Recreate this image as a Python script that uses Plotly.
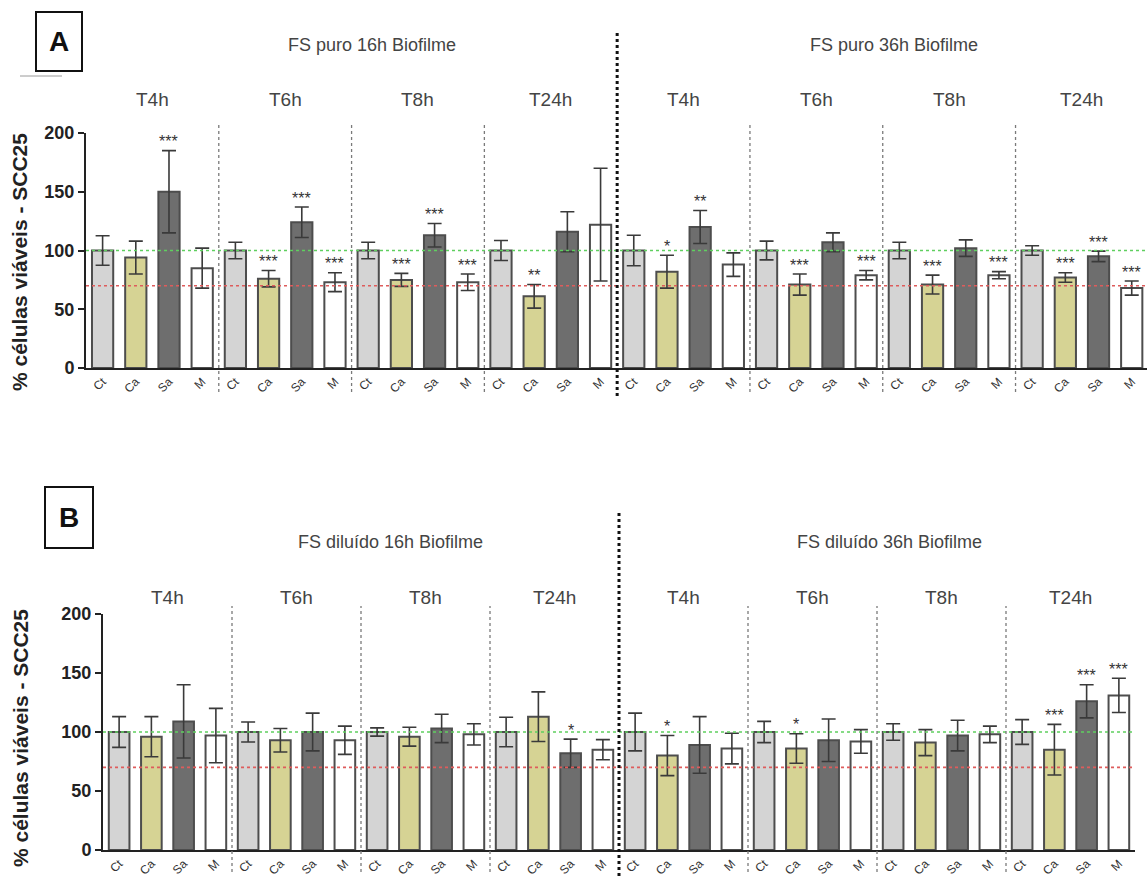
import plotly.graph_objects as go

W, H = 1147, 882

categories = ["Ct", "Ca", "Sa", "M"]
time_points = ["T4h", "T6h", "T8h", "T24h"]

# Panel A - FS puro (per time point: Ct, Ca, Sa, M)
a16_mean = [100, 94, 150, 85,  100, 76, 124, 73,  100, 75, 113, 73,  100, 61, 116, 122]
a16_err = [12.5, 14, 35, 17,   7, 7, 13, 8,       7, 5.5, 10, 7,     8.5, 10, 17, 48]
a16_sig = ["", "", "***", "",  "", "***", "***", "***",  "", "***", "***", "***",  "", "**", "", ""]

a36_mean = [100, 82, 120, 88,  100, 71, 107, 79,  100, 71, 102, 79,  100, 77, 95, 68]
a36_err = [13, 14, 14, 10,     8, 9, 8, 4,        7, 8, 7, 3,        4, 4, 4.5, 6]
a36_sig = ["", "*", "**", "",  "", "***", "", "***",  "", "***", "", "***",  "", "***", "***", "***"]

# Panel B - FS diluído
b16_mean = [100, 96, 109, 97,  100, 93, 100, 93,  100, 96, 103, 98,  100, 113, 82, 85]
b16_err = [13, 17, 31, 23,     8.5, 10, 16, 12,   3.5, 8, 12, 9,     12.5, 21, 12, 8.5]
b16_sig = ["", "", "", "",     "", "", "", "",    "", "", "", "",    "", "", "*", ""]

b36_mean = [100, 80, 89, 86,   100, 86, 93, 92,   100, 91, 97, 98,   100, 85, 126, 131]
b36_err = [16, 17, 24, 13,     9, 12.5, 18, 10,   7, 11, 13, 7,      10.5, 21.5, 14, 14.5]
b36_sig = ["", "*", "", "",    "", "*", "", "",   "", "", "", "",    "", "***", "***", "***"]

titles_a = ["FS puro 16h Biofilme", "FS puro 36h Biofilme"]
titles_b = ["FS diluído 16h Biofilme", "FS diluído 36h Biofilme"]
y_title = "% células viáveis - SCC25"

fill_colors = {"Ct": "#d4d4d4", "Ca": "#d6d394", "Sa": "#6e6e6e", "M": "#ffffff"}
FONT = "Liberation Sans, Arial, sans-serif"


def px_x(x):
    return x / W


def px_y(y):
    return 1 - y / H


fig = go.Figure()
annotations = []
shapes = []


def note(x, y, text, size, color, xref="paper", yref="paper", angle=0, yshift=0):
    annotations.append(dict(x=x, y=y, xref=xref, yref=yref, text=text, showarrow=False,
                            xanchor="center", yanchor="middle", textangle=angle,
                            yshift=yshift, font=dict(family=FONT, size=size, color=color)))


panels = [
    dict(xa="x", ya="y", means=a16_mean + a36_mean, errs=a16_err + a36_err,
         sig=a16_sig + a36_sig, titles=titles_a, letter="A",
         xdom=[px_x(86), 1.0], ydom=[px_y(368), px_y(133)], xr=[-0.5, 31.46],
         title_px=[(372, 45), (894, 45)], tp_y=100, div_top=123, div_bot=392,
         major_top=30, major_bot=396, box=(36, 12, 82, 71), ytitle_y=262),
    dict(xa="x2", ya="y2", means=b16_mean + b36_mean, errs=b16_err + b36_err,
         sig=b16_sig + b36_sig, titles=titles_b, letter="B",
         xdom=[px_x(103), px_x(1135)], ydom=[px_y(850), px_y(614)], xr=[-0.5, 31.5],
         title_px=[(390, 542), (890, 542)], tp_y=597, div_top=606, div_bot=872,
         major_top=513, major_bot=876, box=(45, 487, 93, 548), ytitle_y=738),
]

for p in panels:
    n = len(p["means"])
    for ci, cat in enumerate(categories):
        idx = [i for i in range(n) if i % 4 == ci]
        fig.add_trace(go.Bar(
            x=idx,
            y=[p["means"][i] for i in idx],
            error_y=dict(type="data", array=[p["errs"][i] for i in idx],
                         color="#3a3a3a", thickness=1.6, width=7),
            width=0.64,
            marker=dict(color=fill_colors[cat], line=dict(color="#4d4d4d", width=2)),
            xaxis=p["xa"], yaxis=p["ya"], showlegend=False, name=cat,
        ))

    xref, yref = p["xa"], p["ya"]
    # reference levels
    for lvl, col in [(100, "#5fcf5f"), (70, "#de5c5c")]:
        shapes.append(dict(type="line", xref=xref, yref=yref, x0=-0.5, x1=31.5,
                           y0=lvl, y1=lvl, layer="above",
                           line=dict(color=col, width=1.6, dash="dot")))
    # time-point dividers
    for b in [3.5, 7.5, 11.5, 19.5, 23.5, 27.5]:
        shapes.append(dict(type="line", xref=xref, yref="paper", x0=b, x1=b,
                           y0=px_y(p["div_bot"]), y1=px_y(p["div_top"]),
                           line=dict(color="#7a7a7a", width=1.3, dash="dot")))
    # biofilm divider
    shapes.append(dict(type="line", xref=xref, yref="paper", x0=15.5, x1=15.5,
                       y0=px_y(p["major_bot"]), y1=px_y(p["major_top"]),
                       line=dict(color="#111111", width=3, dash="dot")))
    # letter box
    bx0, by0, bx1, by1 = p["box"]
    shapes.append(dict(type="rect", xref="paper", yref="paper",
                       x0=px_x(bx0), x1=px_x(bx1), y0=px_y(by1), y1=px_y(by0),
                       line=dict(color="#111111", width=2)))
    note(px_x((bx0 + bx1) / 2), px_y((by0 + by1) / 2), f"<b>{p['letter']}</b>", 28, "#111")
    # biofilm titles
    for t, (tx, ty) in zip(p["titles"], p["title_px"]):
        note(px_x(tx), px_y(ty), t, 18, "#444")
    # time-point labels
    for g in range(8):
        note(g * 4 + 1.5, px_y(p["tp_y"]), time_points[g % 4], 19, "#444", xref=xref)
    # significance marks
    for i in range(n):
        if p["sig"][i]:
            note(i, p["means"][i] + p["errs"][i], p["sig"][i], 16, "#333",
                 xref=xref, yref=yref, yshift=9)
    # y-axis title
    note(px_x(20), px_y(p["ytitle_y"]), f"<b>{y_title}</b>", 21, "#222", angle=-90)

shapes.append(dict(type="line", xref="paper", yref="paper", x0=px_x(20), x1=px_x(62),
                   y0=px_y(76), y1=px_y(76), line=dict(color="#9a9a9a", width=1)))

tick_idx = list(range(32))
tick_txt = [categories[i % 4] for i in tick_idx]

xcommon = dict(tickmode="array", tickvals=tick_idx, ticktext=tick_txt, tickangle=-45,
               tickfont=dict(family=FONT, size=12, color="#333"), showgrid=False,
               zeroline=False, showline=True, linecolor="#222", linewidth=2, ticks="",
               automargin=False)
ycommon = dict(range=[0, 200], tickvals=[0, 50, 100, 150, 200], showgrid=False,
               zeroline=False, showline=True, linecolor="#222", linewidth=2,
               ticks="outside", ticklen=6, tickwidth=2, tickcolor="#222",
               tickfont=dict(family=FONT, size=18, color="#222", weight="bold"),
               automargin=False)

fig.update_layout(
    width=W, height=H, margin=dict(l=0, r=0, t=0, b=0, pad=0, autoexpand=False),
    paper_bgcolor="white", plot_bgcolor="white", barmode="overlay",
    xaxis=dict(domain=panels[0]["xdom"], range=panels[0]["xr"], anchor="y", **xcommon),
    yaxis=dict(domain=panels[0]["ydom"], anchor="x", **ycommon),
    xaxis2=dict(domain=panels[1]["xdom"], range=panels[1]["xr"], anchor="y2", **xcommon),
    yaxis2=dict(domain=panels[1]["ydom"], anchor="x2", **ycommon),
    shapes=shapes, annotations=annotations,
)

fig.write_html("out.html")
